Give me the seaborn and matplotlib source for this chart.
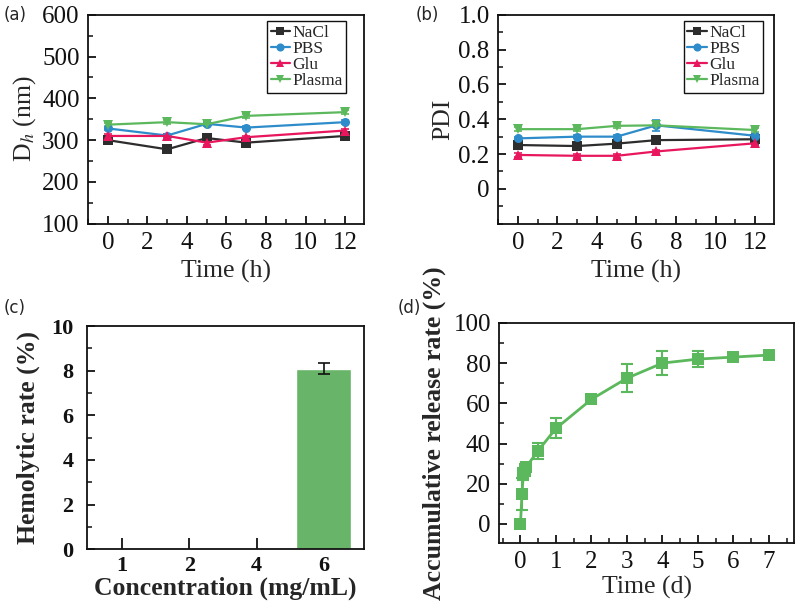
import numpy as np
import pandas as pd
import matplotlib
matplotlib.use("Agg")
import matplotlib.pyplot as plt
import seaborn as sns
from matplotlib.ticker import MultipleLocator, FixedLocator, FuncFormatter

# --- data ---
time_h = [0, 3, 5, 7, 12]
solvents = ["NaCl", "PBS", "Glu", "Plasma"]

size_nacl = [300, 278, 305, 294, 310]
size_pbs = [328, 311, 339, 330, 343]
size_glu = [310, 310, 294, 307, 323]
size_plasma = [337, 343, 338, 358, 367]
size_err = [4, 4, 5, 4, 4]

pdi_nacl = [0.252, 0.246, 0.26, 0.28, 0.285]
pdi_pbs = [0.29, 0.30, 0.30, 0.365, 0.305]
pdi_glu = [0.195, 0.19, 0.19, 0.215, 0.262]
pdi_plasma = [0.343, 0.343, 0.362, 0.365, 0.338]
pdi_err_nacl = [0.01, 0.01, 0.01, 0.02, 0.03]
pdi_err_pbs = [0.01, 0.01, 0.01, 0.03, 0.01]
pdi_err_glu = [0.01, 0.01, 0.01, 0.01, 0.015]
pdi_err_plasma = [0.01, 0.01, 0.01, 0.01, 0.01]

conc_labels = ["1", "2", "4", "6"]
hemolysis = [0, 0, 0, 8.1]
hemolysis_err = [0, 0, 0, 0.25]

release_t = [0, 0.042, 0.083, 0.125, 0.167, 0.5, 1, 2, 3, 4, 5, 6, 7]
release_val = [0, 15, 25, 27, 28.5, 36.5, 47.5, 62, 72.5, 80, 82, 83, 84]
release_err = [0, 8, 3, 3, 2, 4, 5, 2, 7, 6, 4, 2, 1.5]

colors = {"NaCl": "#2d2d2d", "PBS": "#2e8ccb", "Glu": "#e8175d", "Plasma": "#5cb85c"}
markers = {"NaCl": "s", "PBS": "o", "Glu": "^", "Plasma": "v"}
green = "#5cb85c"
SERIF = "Liberation Serif"
LABEL_SIZE = 18.5
TICK_SIZE = 18

sns.set_theme(style="ticks")
plt.rcParams["font.family"] = [SERIF, "DejaVu Serif"]
plt.rcParams["font.serif"] = [SERIF, "DejaVu Serif"]
plt.rcParams["mathtext.fontset"] = "stix"
plt.rcParams["axes.linewidth"] = 1.3
plt.rcParams["axes.edgecolor"] = "#111111"
for ax_name in ("xtick", "ytick"):
    plt.rcParams[f"{ax_name}.direction"] = "in"
    plt.rcParams[f"{ax_name}.major.size"] = 6
    plt.rcParams[f"{ax_name}.minor.size"] = 3.5
    plt.rcParams[f"{ax_name}.major.width"] = 1.3
    plt.rcParams[f"{ax_name}.minor.width"] = 1.1
    plt.rcParams[f"{ax_name}.color"] = "#111111"

fig = plt.figure(figsize=(8, 6.13), dpi=100)
ax_a = fig.add_axes([0.110, 0.635, 0.345, 0.341])
ax_b = fig.add_axes([0.6225, 0.635, 0.345, 0.341])
ax_c = fig.add_axes([0.109, 0.104, 0.346, 0.364])
ax_d = fig.add_axes([0.624, 0.1142, 0.369, 0.359])

size_df = pd.DataFrame({
    "time": time_h * 4,
    "value": size_nacl + size_pbs + size_glu + size_plasma,
    "err": size_err * 4,
    "solvent": np.repeat(solvents, len(time_h)),
})
pdi_df = pd.DataFrame({
    "time": time_h * 4,
    "value": pdi_nacl + pdi_pbs + pdi_glu + pdi_plasma,
    "err": pdi_err_nacl + pdi_err_pbs + pdi_err_glu + pdi_err_plasma,
    "solvent": np.repeat(solvents, len(time_h)),
})


def stability_panel(ax, df, anchor):
    for s in solvents:
        sub = df[df["solvent"] == s]
        ax.errorbar(sub["time"], sub["value"], yerr=sub["err"], fmt="none",
                    ecolor=colors[s], elinewidth=1.2, capsize=3, capthick=1.2)
    sns.lineplot(data=df, x="time", y="value", hue="solvent", style="solvent",
                 palette=colors, markers=markers, dashes=False, markersize=6.5,
                 markeredgewidth=0, linewidth=1.6, ax=ax)
    leg = ax.legend(loc="upper right", bbox_to_anchor=anchor,
                    prop={"family": SERIF, "size": 12.5}, frameon=True,
                    fancybox=False, edgecolor="#111111", framealpha=1,
                    handlelength=1.1, handletextpad=0.15, labelspacing=0.0,
                    borderpad=0.2, borderaxespad=0, markerscale=0.9)
    leg.get_frame().set_linewidth(1.0)
    ax.set_xlim(-1, 12.95)
    ax.xaxis.set_major_locator(MultipleLocator(2))
    ax.xaxis.set_minor_locator(MultipleLocator(1))
    ax.set_xlabel("Time (h)", fontsize=LABEL_SIZE, labelpad=4)
    ax.tick_params(labelsize=TICK_SIZE, pad=6, labelfontfamily=SERIF)


stability_panel(ax_a, size_df, (0.935, 0.97))
ax_a.set_ylim(100, 600)
ax_a.yaxis.set_major_locator(MultipleLocator(100))
ax_a.yaxis.set_minor_locator(MultipleLocator(50))
ax_a.set_ylabel("D$_{h}$ (nm)", fontsize=LABEL_SIZE, labelpad=3)

stability_panel(ax_b, pdi_df, (0.96, 0.97))
ax_b.set_ylim(-0.2, 1.0)
ax_b.yaxis.set_major_locator(FixedLocator([0, 0.2, 0.4, 0.6, 0.8, 1.0]))
ax_b.yaxis.set_minor_locator(MultipleLocator(0.1))
ax_b.yaxis.set_major_formatter(FuncFormatter(lambda v, p: "0" if abs(v) < 1e-9 else f"{v:.1f}"))
ax_b.set_ylabel("PDI", fontsize=LABEL_SIZE, labelpad=3)

# (c) hemolysis bars
sns.barplot(x=conc_labels, y=hemolysis, color="#68b468", saturation=1,
            width=0.82, ax=ax_c)
err_idx = [i for i, e in enumerate(hemolysis_err) if e > 0]
ax_c.errorbar([conc_labels[i] for i in err_idx], [hemolysis[i] for i in err_idx],
              yerr=[hemolysis_err[i] for i in err_idx], fmt="none", ecolor="#111111",
              elinewidth=1.2, capsize=4, capthick=1.2)
ax_c.set_xlim(-0.52, 3.6)
ax_c.set_ylim(0, 10)
ax_c.yaxis.set_major_locator(MultipleLocator(2))
ax_c.yaxis.set_minor_locator(MultipleLocator(1))
ax_c.tick_params(axis="x", which="major", length=8, pad=5)
ax_c.tick_params(axis="y", pad=10)
ax_c.tick_params(labelsize=16, labelfontfamily=SERIF)
for lab in ax_c.get_xticklabels() + ax_c.get_yticklabels():
    lab.set_fontweight("bold")
ax_c.set_xlabel("Concentration (mg/mL)", fontsize=LABEL_SIZE, fontweight="bold", labelpad=0)
ax_c.set_ylabel("Hemolytic rate (%)", fontsize=LABEL_SIZE, fontweight="bold", labelpad=8)

# (d) release curve
ax_d.errorbar(release_t, release_val, yerr=release_err, fmt="none", ecolor=green,
              elinewidth=1.5, capsize=4, capthick=1.5)
sns.lineplot(x=release_t, y=release_val, color=green, marker="s", markersize=9,
             markeredgewidth=0, linewidth=2, ax=ax_d)
ax_d.set_xlim(-0.6, 7.72)
ax_d.set_ylim(-9.5, 100)
ax_d.xaxis.set_major_locator(MultipleLocator(1))
ax_d.xaxis.set_minor_locator(MultipleLocator(0.5))
ax_d.yaxis.set_major_locator(MultipleLocator(20))
ax_d.yaxis.set_minor_locator(MultipleLocator(10))
ax_d.tick_params(labelsize=TICK_SIZE, pad=6, labelfontfamily=SERIF)
ax_d.set_xlabel("Time (d)", fontsize=LABEL_SIZE, labelpad=2)
ax_d.set_ylabel("Accumulative release rate (%)", fontsize=LABEL_SIZE, fontweight="bold", labelpad=5)

# panel letters
for x, y, t in [(0.004, 0.975, "(a)"), (0.52, 0.975, "(b)"), (0.004, 0.497, "(c)"), (0.497, 0.497, "(d)")]:
    fig.text(x, y, t, fontsize=12, family="DejaVu Sans", va="center", ha="left")

fig.savefig("out.png", dpi=100)
